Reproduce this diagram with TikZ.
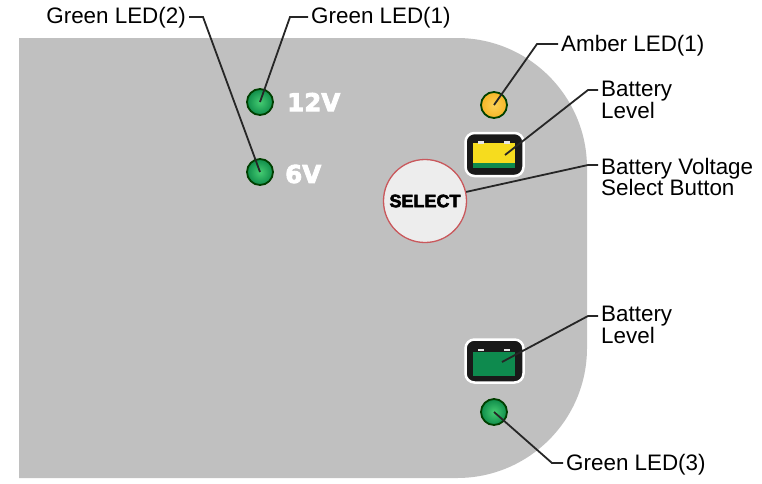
\documentclass[tikz,border=0pt]{standalone}
\usepackage{fontspec}
\setmainfont{Liberation Sans}
\newfontfamily\badgefont[FakeBold=3.5]{DejaVu Sans Bold}
\newfontfamily\selfont[FakeBold=3]{Liberation Sans Bold}
\definecolor{panelgray}{HTML}{C0C0C0}
\definecolor{ledgreen}{HTML}{0F8C4A}
\definecolor{ledlight}{HTML}{45CC72}
\definecolor{batgreen}{HTML}{0E8A4E}
\definecolor{batyellow}{HTML}{F6DC1E}
\definecolor{ledamber}{HTML}{F5B526}
\definecolor{ledpale}{HTML}{FDD257}
\definecolor{selrim}{HTML}{C9585C}
\begin{document}
\begin{tikzpicture}[x=1pt, y=-1pt,
    callout/.style={anchor=west, align=left, inner sep=3pt, font=\fontsize{22.4}{19.5}\selectfont},
    lead/.style={draw=black!85, line width=1.8pt},
    led/.style={circle, draw=black!75!green, line width=1.8pt, minimum size=26pt, inner sep=0pt},
    batcase/.style={draw=white, fill=black!90, line width=2.5pt, rounded corners=9pt, minimum width=58pt, minimum height=43pt, inner sep=0pt},
    tick/.style={fill=white!90!black, minimum width=6pt, minimum height=2.5pt, inner sep=0pt},
    badge/.style={text=white, inner sep=0pt, font=\badgefont\fontsize{24.5}{24.5}\selectfont}]

    \useasboundingbox (0,0) rectangle (762,483);
    \fill[panelgray] (19,38) [rounded corners=130pt] -- (587,38) -- (587,478) [sharp corners] -- (19,478) -- cycle;

    \node[led, inner color=ledlight, outer color=ledgreen] (led1) at (260,102) {};
    \node[led, inner color=ledlight, outer color=ledgreen] (led2) at (260,172) {};
    \node[led, inner color=ledpale, outer color=ledamber] (amber) at (494,105) {};
    \node[led, inner color=ledlight, outer color=ledgreen] (led3) at (494,412) {};
    \node[badge, anchor=west] (v12) at (287,102) {12V};
    \node[badge, anchor=west] (v6) at (285,174) {6V};

    \node[batcase] (batA) at (494.5,154.5) {};
    \node[fill=batyellow, minimum width=42pt, minimum height=20pt, inner sep=0pt] (yelA) at (494,153) {};
    \node[fill=batgreen, minimum width=42pt, minimum height=5pt, inner sep=0pt] (grnA) at (494,165.5) {};
    \node[tick] (tA1) at (481,142.5) {};
    \node[tick] (tA2) at (507,142.5) {};

    \node[batcase] (batB) at (494.5,361) {};
    \node[fill=batgreen, minimum width=42pt, minimum height=24pt, inner sep=0pt] (grnB) at (494,364) {};
    \node[tick] (tB1) at (481,350) {};
    \node[tick] (tB2) at (507,350) {};

    \node[circle, draw=selrim, fill=black!7, line width=1.3pt, minimum size=83pt, inner sep=0pt, font=\selfont\fontsize{18}{18}\selectfont] (sel) at (425,201) {SELECT};

    \node[callout, anchor=east] (lab2) at (189,18) {Green LED(2)};
    \node[callout] (lab1) at (308,18) {Green LED(1)};
    \node[callout] (labA) at (558,46) {Amber LED(1)};
    \node[callout] (lvlA) at (598,100) {Battery\\Level};
    \node[callout] (labS) at (598,177) {Battery Voltage\\Select Button};
    \node[callout] (lvlB) at (598,325) {Battery\\Level};
    \node[callout] (lab3) at (563,465) {Green LED(3)};

    % bends of the leader lines
    \coordinate (k2) at (203,17);
    \coordinate (k1) at (290,17);
    \coordinate (kA) at (537,44);
    \coordinate (kL) at (588,90);
    \coordinate (kS) at (588,165);
    \coordinate (kB) at (588,316);
    \coordinate (k3) at (552,463);
    \coordinate (endA) at (505,155);
    \coordinate (endB) at (502,362);

    \draw[lead] ([yshift=1pt]lab2.east) -- (k2) -- (led2.center);
    \draw[lead] ([yshift=1pt]lab1.west) -- (k1) -- (led1.center);
    \draw[lead] ([yshift=2pt]labA.west) -- (kA) -- (amber.center);
    \draw[lead] ([yshift=10pt]lvlA.west) -- (kL) -- (endA);
    \draw[lead] ([yshift=12pt]labS.west) -- (kS) -- (sel);
    \draw[lead] ([yshift=9pt]lvlB.west) -- (kB) -- (endB);
    \draw[lead] ([yshift=2pt]lab3.west) -- (k3) -- (led3.center);
\end{tikzpicture}
\end{document}
